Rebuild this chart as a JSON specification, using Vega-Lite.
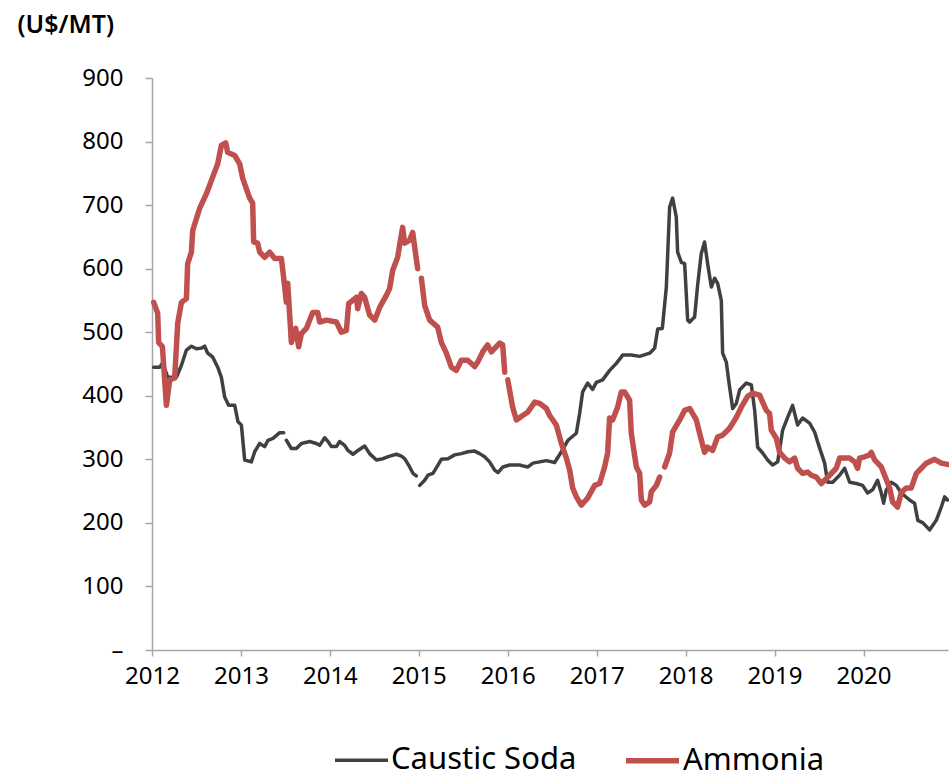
{
  "$schema": "https://vega.github.io/schema/vega-lite/v6.json",
  "width": 796,
  "height": 572,
  "autosize": {"type": "none"},
  "padding": {"left": 152, "top": 78, "right": 1, "bottom": 130},
  "background": "white",
  "config": {
    "view": {"stroke": null},
    "font": "Noto Sans"
  },
  "data": {"values": [
    {"s":"Caustic Soda","t":2012.019,"v":445},{"s":"Caustic Soda","t":2012.087,"v":445},{"s":"Caustic Soda","t":2012.120,"v":452},{"s":"Caustic Soda","t":2012.177,"v":429},{"s":"Caustic Soda","t":2012.274,"v":429},{"s":"Caustic Soda","t":2012.331,"v":448},{"s":"Caustic Soda","t":2012.387,"v":472},{"s":"Caustic Soda","t":2012.443,"v":478},{"s":"Caustic Soda","t":2012.499,"v":474},{"s":"Caustic Soda","t":2012.555,"v":475},{"s":"Caustic Soda","t":2012.592,"v":478},{"s":"Caustic Soda","t":2012.626,"v":467},{"s":"Caustic Soda","t":2012.682,"v":461},{"s":"Caustic Soda","t":2012.739,"v":445},{"s":"Caustic Soda","t":2012.780,"v":429},{"s":"Caustic Soda","t":2012.817,"v":398},{"s":"Caustic Soda","t":2012.862,"v":385},{"s":"Caustic Soda","t":2012.930,"v":385},{"s":"Caustic Soda","t":2012.967,"v":359},{"s":"Caustic Soda","t":2013.005,"v":354},{"s":"Caustic Soda","t":2013.042,"v":299},{"s":"Caustic Soda","t":2013.117,"v":296},{"s":"Caustic Soda","t":2013.155,"v":312},{"s":"Caustic Soda","t":2013.211,"v":325},{"s":"Caustic Soda","t":2013.267,"v":320},{"s":"Caustic Soda","t":2013.304,"v":330},{"s":"Caustic Soda","t":2013.360,"v":333},{"s":"Caustic Soda","t":2013.436,"v":342},{"s":"Caustic Soda","t":2013.481,"v":342},{"s":"Caustic Soda","t":2013.495,"v":null},{"s":"Caustic Soda","t":2013.511,"v":330},{"s":"Caustic Soda","t":2013.567,"v":317},{"s":"Caustic Soda","t":2013.623,"v":317},{"s":"Caustic Soda","t":2013.680,"v":325},{"s":"Caustic Soda","t":2013.773,"v":328},{"s":"Caustic Soda","t":2013.848,"v":325},{"s":"Caustic Soda","t":2013.885,"v":322},{"s":"Caustic Soda","t":2013.942,"v":334},{"s":"Caustic Soda","t":2013.979,"v":328},{"s":"Caustic Soda","t":2014.017,"v":320},{"s":"Caustic Soda","t":2014.073,"v":320},{"s":"Caustic Soda","t":2014.110,"v":328},{"s":"Caustic Soda","t":2014.166,"v":322},{"s":"Caustic Soda","t":2014.203,"v":314},{"s":"Caustic Soda","t":2014.260,"v":308},{"s":"Caustic Soda","t":2014.316,"v":314},{"s":"Caustic Soda","t":2014.391,"v":321},{"s":"Caustic Soda","t":2014.447,"v":309},{"s":"Caustic Soda","t":2014.523,"v":299},{"s":"Caustic Soda","t":2014.597,"v":301},{"s":"Caustic Soda","t":2014.672,"v":305},{"s":"Caustic Soda","t":2014.748,"v":308},{"s":"Caustic Soda","t":2014.804,"v":305},{"s":"Caustic Soda","t":2014.841,"v":301},{"s":"Caustic Soda","t":2014.897,"v":288},{"s":"Caustic Soda","t":2014.934,"v":278},{"s":"Caustic Soda","t":2014.972,"v":274},{"s":"Caustic Soda","t":2014.990,"v":null},{"s":"Caustic Soda","t":2015.010,"v":259},{"s":"Caustic Soda","t":2015.066,"v":267},{"s":"Caustic Soda","t":2015.103,"v":275},{"s":"Caustic Soda","t":2015.159,"v":278},{"s":"Caustic Soda","t":2015.215,"v":291},{"s":"Caustic Soda","t":2015.253,"v":300},{"s":"Caustic Soda","t":2015.328,"v":301},{"s":"Caustic Soda","t":2015.403,"v":307},{"s":"Caustic Soda","t":2015.478,"v":309},{"s":"Caustic Soda","t":2015.553,"v":312},{"s":"Caustic Soda","t":2015.628,"v":313},{"s":"Caustic Soda","t":2015.684,"v":309},{"s":"Caustic Soda","t":2015.740,"v":304},{"s":"Caustic Soda","t":2015.796,"v":296},{"s":"Caustic Soda","t":2015.853,"v":283},{"s":"Caustic Soda","t":2015.890,"v":279},{"s":"Caustic Soda","t":2015.946,"v":288},{"s":"Caustic Soda","t":2016.021,"v":291},{"s":"Caustic Soda","t":2016.134,"v":291},{"s":"Caustic Soda","t":2016.190,"v":289},{"s":"Caustic Soda","t":2016.227,"v":288},{"s":"Caustic Soda","t":2016.283,"v":294},{"s":"Caustic Soda","t":2016.359,"v":296},{"s":"Caustic Soda","t":2016.434,"v":298},{"s":"Caustic Soda","t":2016.527,"v":295},{"s":"Caustic Soda","t":2016.603,"v":312},{"s":"Caustic Soda","t":2016.677,"v":330},{"s":"Caustic Soda","t":2016.771,"v":341},{"s":"Caustic Soda","t":2016.808,"v":372},{"s":"Caustic Soda","t":2016.842,"v":406},{"s":"Caustic Soda","t":2016.898,"v":420},{"s":"Caustic Soda","t":2016.954,"v":410},{"s":"Caustic Soda","t":2016.996,"v":421},{"s":"Caustic Soda","t":2017.067,"v":425},{"s":"Caustic Soda","t":2017.146,"v":440},{"s":"Caustic Soda","t":2017.221,"v":451},{"s":"Caustic Soda","t":2017.292,"v":464},{"s":"Caustic Soda","t":2017.389,"v":464},{"s":"Caustic Soda","t":2017.483,"v":462},{"s":"Caustic Soda","t":2017.596,"v":467},{"s":"Caustic Soda","t":2017.652,"v":475},{"s":"Caustic Soda","t":2017.686,"v":505},{"s":"Caustic Soda","t":2017.738,"v":506},{"s":"Caustic Soda","t":2017.783,"v":571},{"s":"Caustic Soda","t":2017.820,"v":697},{"s":"Caustic Soda","t":2017.854,"v":711},{"s":"Caustic Soda","t":2017.895,"v":681},{"s":"Caustic Soda","t":2017.910,"v":626},{"s":"Caustic Soda","t":2017.952,"v":610},{"s":"Caustic Soda","t":2017.989,"v":608},{"s":"Caustic Soda","t":2018.023,"v":519},{"s":"Caustic Soda","t":2018.045,"v":516},{"s":"Caustic Soda","t":2018.101,"v":524},{"s":"Caustic Soda","t":2018.135,"v":574},{"s":"Caustic Soda","t":2018.176,"v":624},{"s":"Caustic Soda","t":2018.213,"v":642},{"s":"Caustic Soda","t":2018.247,"v":608},{"s":"Caustic Soda","t":2018.289,"v":571},{"s":"Caustic Soda","t":2018.326,"v":585},{"s":"Caustic Soda","t":2018.360,"v":577},{"s":"Caustic Soda","t":2018.401,"v":550},{"s":"Caustic Soda","t":2018.416,"v":467},{"s":"Caustic Soda","t":2018.457,"v":453},{"s":"Caustic Soda","t":2018.494,"v":414},{"s":"Caustic Soda","t":2018.529,"v":380},{"s":"Caustic Soda","t":2018.570,"v":388},{"s":"Caustic Soda","t":2018.607,"v":409},{"s":"Caustic Soda","t":2018.682,"v":420},{"s":"Caustic Soda","t":2018.739,"v":417},{"s":"Caustic Soda","t":2018.776,"v":377},{"s":"Caustic Soda","t":2018.810,"v":319},{"s":"Caustic Soda","t":2018.866,"v":310},{"s":"Caustic Soda","t":2018.922,"v":299},{"s":"Caustic Soda","t":2018.978,"v":291},{"s":"Caustic Soda","t":2019.035,"v":296},{"s":"Caustic Soda","t":2019.091,"v":346},{"s":"Caustic Soda","t":2019.147,"v":366},{"s":"Caustic Soda","t":2019.203,"v":385},{"s":"Caustic Soda","t":2019.259,"v":354},{"s":"Caustic Soda","t":2019.315,"v":365},{"s":"Caustic Soda","t":2019.394,"v":357},{"s":"Caustic Soda","t":2019.450,"v":343},{"s":"Caustic Soda","t":2019.506,"v":318},{"s":"Caustic Soda","t":2019.563,"v":294},{"s":"Caustic Soda","t":2019.597,"v":264},{"s":"Caustic Soda","t":2019.653,"v":264},{"s":"Caustic Soda","t":2019.731,"v":275},{"s":"Caustic Soda","t":2019.788,"v":286},{"s":"Caustic Soda","t":2019.844,"v":264},{"s":"Caustic Soda","t":2019.919,"v":262},{"s":"Caustic Soda","t":2019.990,"v":259},{"s":"Caustic Soda","t":2020.046,"v":247},{"s":"Caustic Soda","t":2020.102,"v":252},{"s":"Caustic Soda","t":2020.158,"v":267},{"s":"Caustic Soda","t":2020.200,"v":247},{"s":"Caustic Soda","t":2020.226,"v":231},{"s":"Caustic Soda","t":2020.256,"v":252},{"s":"Caustic Soda","t":2020.312,"v":264},{"s":"Caustic Soda","t":2020.369,"v":259},{"s":"Caustic Soda","t":2020.425,"v":247},{"s":"Caustic Soda","t":2020.518,"v":236},{"s":"Caustic Soda","t":2020.574,"v":231},{"s":"Caustic Soda","t":2020.611,"v":204},{"s":"Caustic Soda","t":2020.668,"v":200},{"s":"Caustic Soda","t":2020.743,"v":189},{"s":"Caustic Soda","t":2020.818,"v":204},{"s":"Caustic Soda","t":2020.875,"v":225},{"s":"Caustic Soda","t":2020.912,"v":241},{"s":"Caustic Soda","t":2020.945,"v":236},
    {"s":"Ammonia","t":2012.019,"v":547},{"s":"Ammonia","t":2012.064,"v":530},{"s":"Ammonia","t":2012.075,"v":484},{"s":"Ammonia","t":2012.117,"v":477},{"s":"Ammonia","t":2012.162,"v":385},{"s":"Ammonia","t":2012.199,"v":425},{"s":"Ammonia","t":2012.255,"v":428},{"s":"Ammonia","t":2012.289,"v":514},{"s":"Ammonia","t":2012.331,"v":547},{"s":"Ammonia","t":2012.387,"v":553},{"s":"Ammonia","t":2012.401,"v":608},{"s":"Ammonia","t":2012.443,"v":626},{"s":"Ammonia","t":2012.458,"v":660},{"s":"Ammonia","t":2012.536,"v":695},{"s":"Ammonia","t":2012.612,"v":718},{"s":"Ammonia","t":2012.682,"v":744},{"s":"Ammonia","t":2012.739,"v":765},{"s":"Ammonia","t":2012.780,"v":794},{"s":"Ammonia","t":2012.829,"v":798},{"s":"Ammonia","t":2012.851,"v":783},{"s":"Ammonia","t":2012.930,"v":778},{"s":"Ammonia","t":2012.986,"v":765},{"s":"Ammonia","t":2013.020,"v":742},{"s":"Ammonia","t":2013.098,"v":711},{"s":"Ammonia","t":2013.132,"v":703},{"s":"Ammonia","t":2013.143,"v":642},{"s":"Ammonia","t":2013.188,"v":640},{"s":"Ammonia","t":2013.211,"v":626},{"s":"Ammonia","t":2013.267,"v":618},{"s":"Ammonia","t":2013.323,"v":626},{"s":"Ammonia","t":2013.380,"v":616},{"s":"Ammonia","t":2013.455,"v":616},{"s":"Ammonia","t":2013.481,"v":585},{"s":"Ammonia","t":2013.511,"v":547},{"s":"Ammonia","t":2013.526,"v":577},{"s":"Ammonia","t":2013.567,"v":484},{"s":"Ammonia","t":2013.616,"v":506},{"s":"Ammonia","t":2013.649,"v":477},{"s":"Ammonia","t":2013.680,"v":498},{"s":"Ammonia","t":2013.736,"v":506},{"s":"Ammonia","t":2013.807,"v":531},{"s":"Ammonia","t":2013.863,"v":531},{"s":"Ammonia","t":2013.885,"v":516},{"s":"Ammonia","t":2013.961,"v":519},{"s":"Ammonia","t":2014.073,"v":516},{"s":"Ammonia","t":2014.129,"v":500},{"s":"Ammonia","t":2014.186,"v":503},{"s":"Ammonia","t":2014.211,"v":545},{"s":"Ammonia","t":2014.298,"v":555},{"s":"Ammonia","t":2014.313,"v":537},{"s":"Ammonia","t":2014.354,"v":561},{"s":"Ammonia","t":2014.391,"v":555},{"s":"Ammonia","t":2014.447,"v":527},{"s":"Ammonia","t":2014.504,"v":519},{"s":"Ammonia","t":2014.560,"v":539},{"s":"Ammonia","t":2014.635,"v":558},{"s":"Ammonia","t":2014.672,"v":569},{"s":"Ammonia","t":2014.706,"v":597},{"s":"Ammonia","t":2014.762,"v":618},{"s":"Ammonia","t":2014.818,"v":665},{"s":"Ammonia","t":2014.841,"v":640},{"s":"Ammonia","t":2014.897,"v":645},{"s":"Ammonia","t":2014.931,"v":657},{"s":"Ammonia","t":2014.987,"v":600},{"s":"Ammonia","t":2015.007,"v":null},{"s":"Ammonia","t":2015.029,"v":585},{"s":"Ammonia","t":2015.066,"v":542},{"s":"Ammonia","t":2015.122,"v":519},{"s":"Ammonia","t":2015.212,"v":508},{"s":"Ammonia","t":2015.253,"v":484},{"s":"Ammonia","t":2015.310,"v":467},{"s":"Ammonia","t":2015.366,"v":445},{"s":"Ammonia","t":2015.422,"v":440},{"s":"Ammonia","t":2015.478,"v":456},{"s":"Ammonia","t":2015.549,"v":456},{"s":"Ammonia","t":2015.628,"v":446},{"s":"Ammonia","t":2015.662,"v":453},{"s":"Ammonia","t":2015.718,"v":469},{"s":"Ammonia","t":2015.774,"v":480},{"s":"Ammonia","t":2015.816,"v":469},{"s":"Ammonia","t":2015.909,"v":483},{"s":"Ammonia","t":2015.943,"v":480},{"s":"Ammonia","t":2015.966,"v":437},{"s":"Ammonia","t":2015.982,"v":null},{"s":"Ammonia","t":2016.000,"v":425},{"s":"Ammonia","t":2016.055,"v":382},{"s":"Ammonia","t":2016.097,"v":362},{"s":"Ammonia","t":2016.168,"v":369},{"s":"Ammonia","t":2016.224,"v":374},{"s":"Ammonia","t":2016.303,"v":390},{"s":"Ammonia","t":2016.359,"v":388},{"s":"Ammonia","t":2016.434,"v":380},{"s":"Ammonia","t":2016.471,"v":369},{"s":"Ammonia","t":2016.546,"v":354},{"s":"Ammonia","t":2016.603,"v":325},{"s":"Ammonia","t":2016.659,"v":302},{"s":"Ammonia","t":2016.696,"v":283},{"s":"Ammonia","t":2016.730,"v":255},{"s":"Ammonia","t":2016.771,"v":241},{"s":"Ammonia","t":2016.827,"v":228},{"s":"Ammonia","t":2016.898,"v":239},{"s":"Ammonia","t":2016.977,"v":259},{"s":"Ammonia","t":2017.033,"v":262},{"s":"Ammonia","t":2017.089,"v":288},{"s":"Ammonia","t":2017.123,"v":310},{"s":"Ammonia","t":2017.145,"v":365},{"s":"Ammonia","t":2017.179,"v":362},{"s":"Ammonia","t":2017.235,"v":382},{"s":"Ammonia","t":2017.277,"v":406},{"s":"Ammonia","t":2017.314,"v":406},{"s":"Ammonia","t":2017.370,"v":393},{"s":"Ammonia","t":2017.389,"v":341},{"s":"Ammonia","t":2017.446,"v":288},{"s":"Ammonia","t":2017.483,"v":278},{"s":"Ammonia","t":2017.502,"v":236},{"s":"Ammonia","t":2017.539,"v":228},{"s":"Ammonia","t":2017.596,"v":233},{"s":"Ammonia","t":2017.614,"v":249},{"s":"Ammonia","t":2017.671,"v":259},{"s":"Ammonia","t":2017.708,"v":272},{"s":"Ammonia","t":2017.730,"v":null},{"s":"Ammonia","t":2017.764,"v":288},{"s":"Ammonia","t":2017.820,"v":310},{"s":"Ammonia","t":2017.854,"v":343},{"s":"Ammonia","t":2017.933,"v":362},{"s":"Ammonia","t":2017.989,"v":377},{"s":"Ammonia","t":2018.045,"v":380},{"s":"Ammonia","t":2018.120,"v":362},{"s":"Ammonia","t":2018.157,"v":341},{"s":"Ammonia","t":2018.213,"v":311},{"s":"Ammonia","t":2018.247,"v":319},{"s":"Ammonia","t":2018.303,"v":314},{"s":"Ammonia","t":2018.359,"v":335},{"s":"Ammonia","t":2018.416,"v":338},{"s":"Ammonia","t":2018.494,"v":349},{"s":"Ammonia","t":2018.570,"v":366},{"s":"Ammonia","t":2018.626,"v":382},{"s":"Ammonia","t":2018.697,"v":399},{"s":"Ammonia","t":2018.753,"v":404},{"s":"Ammonia","t":2018.832,"v":401},{"s":"Ammonia","t":2018.866,"v":390},{"s":"Ammonia","t":2018.907,"v":377},{"s":"Ammonia","t":2018.944,"v":372},{"s":"Ammonia","t":2018.963,"v":346},{"s":"Ammonia","t":2019.020,"v":333},{"s":"Ammonia","t":2019.057,"v":311},{"s":"Ammonia","t":2019.113,"v":302},{"s":"Ammonia","t":2019.169,"v":296},{"s":"Ammonia","t":2019.226,"v":302},{"s":"Ammonia","t":2019.259,"v":286},{"s":"Ammonia","t":2019.315,"v":278},{"s":"Ammonia","t":2019.372,"v":280},{"s":"Ammonia","t":2019.413,"v":275},{"s":"Ammonia","t":2019.469,"v":272},{"s":"Ammonia","t":2019.526,"v":262},{"s":"Ammonia","t":2019.563,"v":267},{"s":"Ammonia","t":2019.619,"v":275},{"s":"Ammonia","t":2019.694,"v":286},{"s":"Ammonia","t":2019.731,"v":302},{"s":"Ammonia","t":2019.844,"v":302},{"s":"Ammonia","t":2019.900,"v":296},{"s":"Ammonia","t":2019.934,"v":286},{"s":"Ammonia","t":2019.956,"v":302},{"s":"Ammonia","t":2020.012,"v":304},{"s":"Ammonia","t":2020.068,"v":307},{"s":"Ammonia","t":2020.088,"v":311},{"s":"Ammonia","t":2020.125,"v":299},{"s":"Ammonia","t":2020.200,"v":288},{"s":"Ammonia","t":2020.237,"v":275},{"s":"Ammonia","t":2020.294,"v":255},{"s":"Ammonia","t":2020.327,"v":233},{"s":"Ammonia","t":2020.383,"v":225},{"s":"Ammonia","t":2020.425,"v":248},{"s":"Ammonia","t":2020.481,"v":255},{"s":"Ammonia","t":2020.537,"v":255},{"s":"Ammonia","t":2020.594,"v":278},{"s":"Ammonia","t":2020.650,"v":286},{"s":"Ammonia","t":2020.706,"v":294},{"s":"Ammonia","t":2020.799,"v":300},{"s":"Ammonia","t":2020.875,"v":294},{"s":"Ammonia","t":2020.945,"v":292}
  ]},
  "mark": {"type": "line", "invalid": "break-paths-show-domains", "strokeJoin": "round", "strokeCap": "round"},
  "encoding": {
    "x": {
      "field": "t", "type": "quantitative",
      "scale": {"domain": [2012, 2020.95], "nice": false, "zero": false},
      "axis": {
        "title": null, "values": [2012,2013,2014,2015,2016,2017,2018,2019,2020], "format": "d",
        "grid": false, "domainColor": "#a6a6a6", "domainWidth": 1.5, "tickColor": "#a6a6a6", "tickWidth": 1.5, "tickSize": 6,
        "labelFont": "Noto Sans", "labelFontSize": 24, "labelColor": "#000000", "labelPadding": 8, "labelFlush": false
      }
    },
    "y": {
      "field": "v", "type": "quantitative",
      "scale": {"domain": [0, 900], "nice": false},
      "axis": {
        "title": "(U$/MT)", "titleAngle": 0, "titleAlign": "left", "titleBaseline": "middle", "titleX": -135, "titleY": -54,
        "titleFont": "Noto Sans", "titleFontSize": 25, "titleFontWeight": 600, "titleColor": "#000000",
        "values": [0,100,200,300,400,500,600,700,800,900],
        "labelExpr": "datum.value == 0 ? '–' : datum.label",
        "grid": false, "domainColor": "#a6a6a6", "domainWidth": 1.5, "tickColor": "#a6a6a6", "tickWidth": 1.5, "tickSize": 7,
        "labelFont": "Noto Sans", "labelFontSize": 24, "labelColor": "#000000", "labelPadding": 22
      }
    },
    "color": {
      "field": "s", "type": "nominal",
      "scale": {"domain": ["Caustic Soda", "Ammonia"], "range": ["#404040", "#c0504d"]},
      "legend": {
        "title": null, "orient": "none", "legendX": 181, "legendY": 653, "direction": "horizontal",
        "symbolType": "stroke", "symbolSize": 2809, "labelFont": "Noto Sans", "labelFontSize": 31, "labelColor": "#000000",
        "labelOffset": 1, "columnPadding": 38, "labelLimit": 400
      }
    },
    "strokeWidth": {
      "field": "s", "type": "ordinal",
      "scale": {"domain": ["Caustic Soda", "Ammonia"], "range": [3.5, 5.5]},
      "legend": {
        "title": null, "orient": "none", "legendX": 181, "legendY": 653, "direction": "horizontal",
        "symbolType": "stroke", "symbolSize": 2809, "labelFont": "Noto Sans", "labelFontSize": 31, "labelColor": "#000000",
        "labelOffset": 1, "columnPadding": 38, "labelLimit": 400
      }
    }
  }
}
